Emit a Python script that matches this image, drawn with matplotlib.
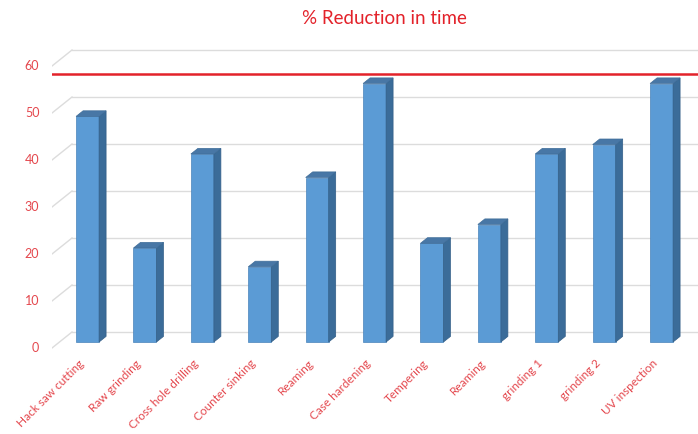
import numpy as np
import matplotlib.pyplot as plt
from matplotlib.patches import Polygon

operations = ["Hack saw cutting", "Raw grinding", "Cross hole drilling", "Counter sinking",
              "Reaming", "Case hardening", "Tempering", "Reaming", "grinding 1",
              "grinding 2", "UV inspection"]
reduction = [48, 20, 40, 16, 35, 55, 21, 25, 40, 42, 55]
target = 57
yticks = [0, 10, 20, 30, 40, 50, 60]

plt.rcParams['font.family'] = ['Lato', 'DejaVu Sans']
label_red = '#e4474d'
title_red = '#e3222a'
grid_col = '#dcdcdc'

fig = plt.figure(figsize=(6.98, 4.34), dpi=100)
ax = fig.add_axes([52 / 698, 0, 646 / 698, 1])

# one category = 57.4 px, one unit = 4.7 px, bar base sits 342 px from the top
px_x, px_y = 57.4, 4.7
x0 = -0.62
ax.set_xlim(x0, x0 + 646 / px_x)
ax.set_ylim((342 - 434) / px_y, 342 / px_y)
ax.axis('off')

# pseudo-3D offsets: front edge of the side wall and the back wall
front_dy = -6 / px_y
back_dx, back_dy = 20 / px_x, 10 / px_y
xmax = x0 + 646 / px_x
for v in yticks:
    ax.plot([x0, x0 + back_dx], [v + front_dy, v + back_dy], color=grid_col, lw=1, zorder=1)
    ax.plot([x0 + back_dx, xmax], [v + back_dy, v + back_dy], color=grid_col, lw=1, zorder=1)
    ax.text(x0 - 0.22, v + front_dy, str(v), color=label_red, fontsize=9,
            ha='right', va='center')

# bars with a side and top face
w = 23 / px_x
ddx, ddy = 7 / px_x, 5.6 / px_y
ax.bar(range(len(reduction)), reduction, width=w, color='#5b9bd5',
       edgecolor='#4a84bb', linewidth=0.5, zorder=3)
for i, v in enumerate(reduction):
    r, l = i + w / 2, i - w / 2
    side = Polygon([(r, 0), (r + ddx, ddy), (r + ddx, v + ddy), (r, v)],
                   closed=True, facecolor='#3b6c99', edgecolor='#335f88', lw=0.5, zorder=3)
    top = Polygon([(l, v), (l + ddx, v + ddy), (r + ddx, v + ddy), (r, v)],
                  closed=True, facecolor='#4877a6', edgecolor='#3f6d99', lw=0.5, zorder=3)
    ax.add_patch(side)
    ax.add_patch(top)
    ax.text(i - 0.1, -4.2, operations[i], color=label_red, fontsize=8.5,
            rotation=45, rotation_mode='anchor', ha='right', va='center')

ax.plot([x0, xmax], [target, target], color=title_red, lw=1.8, zorder=4)

fig.text(384 / 698, 1 - 18 / 434, "% Reduction in time", color=title_red,
         fontsize=13.5, ha='center', va='center')

fig.savefig("out.png", dpi=100)
